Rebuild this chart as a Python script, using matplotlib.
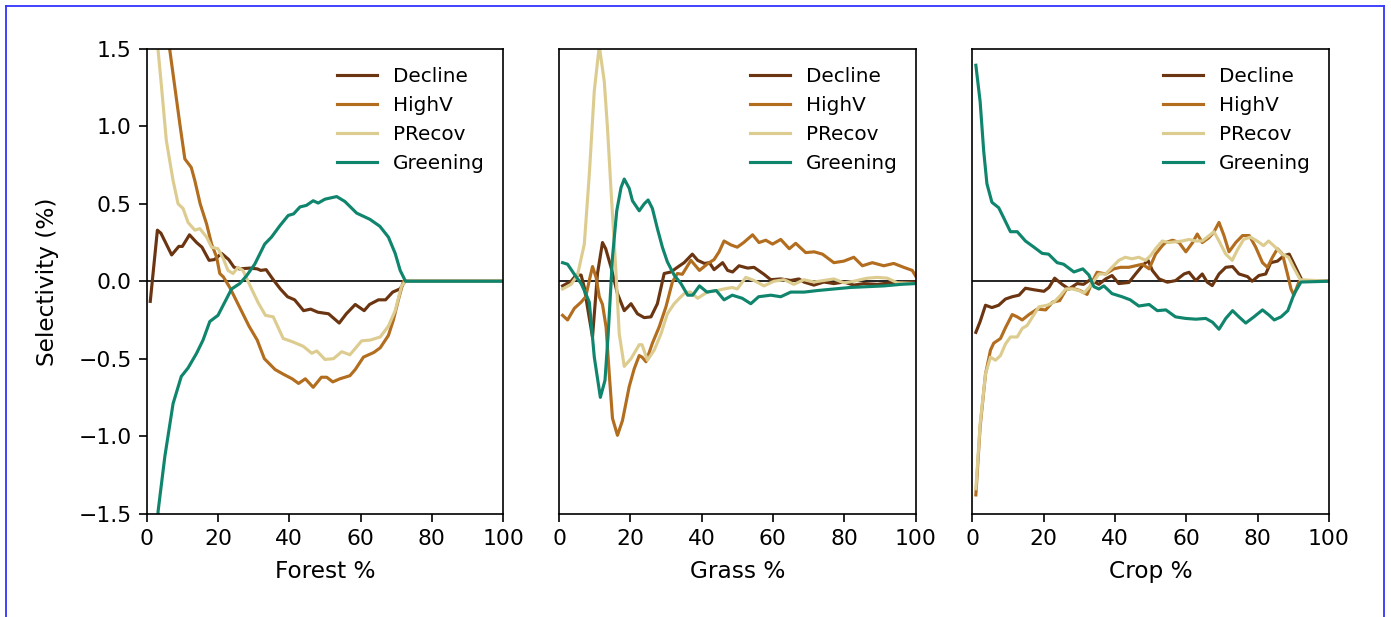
import matplotlib
matplotlib.use("Agg")
import matplotlib.pyplot as plt
from matplotlib.lines import Line2D

# ---------------- data ----------------
series_names = ["Decline", "HighV", "PRecov", "Greening"]
series_colors = ["#6b3511", "#b26d1f", "#ddcc90", "#10856d"]
panel_xlabels = ["Forest %", "Grass %", "Crop %"]
y_label = "Selectivity (%)"

# Forest
forest_decline_x = [1, 3, 4, 7, 9, 10, 12, 14, 15.5, 17.5, 19, 21, 23, 24.5, 26, 29, 31, 32, 33.5, 35.5,
                    37.5, 39.5, 41.5, 44, 46, 48, 51, 54, 56, 58.5, 61, 62.5, 65, 67, 69, 71, 72.5, 100]
forest_decline_y = [-0.13, 0.33, 0.31, 0.17, 0.225, 0.225, 0.30, 0.25, 0.22, 0.135, 0.14, 0.18, 0.14, 0.09,
                    0.08, 0.085, 0.08, 0.07, 0.075, 0.01, -0.05, -0.10, -0.12, -0.19, -0.18, -0.20, -0.21,
                    -0.27, -0.21, -0.15, -0.19, -0.15, -0.12, -0.12, -0.07, -0.05, 0, 0]
forest_highv_x = [1, 3, 5, 6.5, 9.3, 10.7, 12.5, 13.5, 15, 16.8, 18.2, 19.6, 20.5, 21.5, 23.3, 26, 28.7, 31,
                  33, 36, 38.3, 40.8, 42.6, 44.5, 46.7, 49, 50.5, 52.2, 54.2, 57, 58.5, 60.8, 63.7, 65.5,
                  67.8, 69.2, 70.6, 72, 100]
forest_highv_y = [3.0, 2.3, 1.8, 1.49, 1.015, 0.79, 0.735, 0.65, 0.50, 0.37, 0.24, 0.157, 0.05, 0.028,
                  -0.04, -0.165, -0.29, -0.38, -0.50, -0.57, -0.60, -0.63, -0.66, -0.63, -0.685, -0.62,
                  -0.62, -0.65, -0.63, -0.61, -0.57, -0.49, -0.46, -0.43, -0.35, -0.25, -0.12, 0, 0]
forest_precov_x = [1, 2, 3.2, 4.1, 5.5, 7.4, 8.8, 10.2, 11.6, 13.5, 14.9, 16.8, 18.2, 20, 21.5, 22.8, 24.2,
                   25.6, 27, 28.9, 31.3, 33.3, 35.5, 38.3, 40.8, 43.9, 46.3, 47.7, 50, 52.4, 54.7, 57, 60.3,
                   62.7, 65.5, 67.8, 69.7, 71.5, 72.6, 100]
forest_precov_y = [2.4, 1.9, 1.49, 1.27, 0.91, 0.65, 0.50, 0.47, 0.38, 0.33, 0.34, 0.285, 0.22, 0.21, 0.145,
                   0.07, 0.05, 0.09, 0.07, -0.025, -0.14, -0.22, -0.23, -0.37, -0.39, -0.42, -0.465, -0.45,
                   -0.505, -0.50, -0.455, -0.475, -0.385, -0.38, -0.36, -0.29, -0.19, -0.03, 0, 0]
forest_greening_x = [1, 2, 3.2, 5.1, 7.4, 9.7, 11.6, 14, 15.8, 17.7, 20, 21.9, 23.8, 26.1, 28, 30.3, 33.1, 35,
                     37.4, 39.7, 41.2, 43, 44.8, 46.7, 48.1, 50, 53.3, 55.6, 58.9, 62.6, 65.4, 67.8, 69.7,
                     71.1, 72.6, 100]
forest_greening_y = [-2.6, -2.0, -1.485, -1.13, -0.79, -0.615, -0.56, -0.465, -0.38, -0.26, -0.22, -0.135,
                     -0.05, -0.015, 0.035, 0.11, 0.24, 0.285, 0.36, 0.425, 0.435, 0.48, 0.49, 0.52, 0.505,
                     0.53, 0.547, 0.515, 0.44, 0.40, 0.355, 0.285, 0.18, 0.07, 0, 0]

# Grass
grass_decline_x = [1, 3.4, 4.8, 6.2, 7.1, 8, 9.4, 10.8, 12.2, 13.1, 14.6, 16.4, 18.3, 20.2, 22, 23.9, 25.8,
                   27.6, 29.5, 31.4, 33.2, 35.1, 37.4, 38.9, 40.8, 42.2, 43.5, 45.9, 47.3, 48.7, 50.5, 52.9,
                   54.7, 57.5, 59.4, 62.2, 65, 67.3, 68.7, 71.5, 74.3, 77.1, 79.9, 82.7, 85.5, 89.3, 93, 100]
grass_decline_y = [-0.03, 0.0, 0.04, 0.04, -0.04, -0.17, -0.36, 0.05, 0.25, 0.21, 0.09, -0.08, -0.19,
                   -0.145, -0.21, -0.235, -0.23, -0.145, 0.05, 0.06, 0.09, 0.12, 0.175, 0.135, 0.115, 0.12,
                   0.075, 0.12, 0.07, 0.06, 0.10, 0.085, 0.09, 0.045, 0.01, 0.015, 0.005, 0.015, -0.005,
                   -0.025, -0.005, -0.015, -0.005, -0.025, -0.015, -0.02, -0.01, -0.005]
grass_highv_x = [1, 2.4, 4.3, 6.2, 7.5, 8.5, 9.4, 10.4, 11.3, 12.2, 13.2, 14.1, 15, 16.4, 17.8, 19.7, 21.1,
                 22.5, 23.3, 24.4, 26.2, 28.1, 30, 31.8, 33.2, 34.6, 37, 39.4, 41.8, 43.5, 44.9, 46.3, 48.2,
                 50, 51.8, 54.3, 56.1, 58, 59.9, 62.2, 64.6, 66.4, 69.2, 71.6, 73.9, 77.1, 79.9, 82.7, 85.1,
                 87.9, 91.1, 93.9, 96.7, 99.1, 100]
grass_highv_y = [-0.22, -0.25, -0.175, -0.135, -0.10, 0.005, 0.095, 0.025, -0.10, -0.15, -0.295, -0.60,
                 -0.885, -0.995, -0.90, -0.68, -0.565, -0.48, -0.49, -0.52, -0.40, -0.295, -0.165, -0.005,
                 0.05, 0.045, 0.135, 0.07, 0.115, 0.14, 0.19, 0.26, 0.235, 0.22, 0.25, 0.30, 0.25, 0.265,
                 0.24, 0.27, 0.21, 0.245, 0.185, 0.19, 0.175, 0.12, 0.13, 0.155, 0.10, 0.12, 0.10, 0.115,
                 0.09, 0.07, 0.035]
grass_precov_x = [1, 3.4, 5.2, 7.1, 8.5, 9.9, 11.3, 12.7, 13.6, 14.6, 16, 16.9, 18.3, 20.2, 22.5, 23.3, 24.8,
                  26.7, 28.6, 30.4, 32.3, 34.2, 35.6, 36.9, 38.9, 41.6, 44.4, 46.2, 48.6, 50, 52.4, 54.7,
                  57.5, 60.3, 63.1, 65.9, 68.7, 71.5, 74.3, 77.1, 79.9, 82.7, 86.5, 89.3, 92.1, 94.9, 100]
grass_precov_y = [-0.05, -0.02, 0.04, 0.24, 0.69, 1.23, 1.52, 1.29, 0.99, 0.585, 0.05, -0.34, -0.55, -0.50,
                  -0.41, -0.41, -0.51, -0.445, -0.34, -0.21, -0.145, -0.10, -0.07, -0.07, -0.11, -0.07,
                  -0.06, -0.05, -0.04, -0.05, 0.025, 0.005, -0.03, 0.0, 0.01, -0.02, 0.01, -0.005, 0.005,
                  0.015, -0.01, 0.0, 0.02, 0.025, 0.02, -0.01, -0.015]
grass_greening_x = [1, 2.4, 4.3, 6.2, 7.5, 8.5, 9.9, 11.6, 12.9, 13.8, 15, 16.2, 17.4, 18.3, 19.7, 20.6, 22.5,
                    23.9, 25, 26.2, 27.6, 29, 30.4, 32.3, 34.2, 36.1, 37.5, 39.4, 41.5, 44.1, 46.3, 48.6,
                    51.4, 53.8, 56, 59.4, 62.2, 65, 68.8, 72.5, 77.1, 81.8, 86.5, 91.2, 95.9, 100]
grass_greening_y = [0.12, 0.11, 0.045, -0.015, -0.08, -0.135, -0.49, -0.75, -0.64, -0.34, 0.155, 0.455,
                    0.605, 0.66, 0.60, 0.52, 0.455, 0.50, 0.525, 0.47, 0.34, 0.22, 0.125, 0.04, -0.015,
                    -0.09, -0.09, -0.03, -0.07, -0.06, -0.12, -0.09, -0.11, -0.145, -0.10, -0.09, -0.10,
                    -0.07, -0.07, -0.06, -0.05, -0.04, -0.035, -0.03, -0.02, -0.015]

# Crop
crop_decline_x = [1, 2.2, 3.7, 5.5, 7.4, 9.3, 11.2, 13.1, 14.9, 17.3, 20.1, 21.5, 23.1, 25.2, 27.1, 29.4,
                  31.2, 33.1, 35.5, 37.4, 39.2, 41.1, 43.9, 45.8, 47.7, 49.3, 50.5, 52.4, 54.7, 57, 59.4,
                  60.8, 62.7, 64.5, 65.9, 67.3, 69.2, 71.1, 73, 74.8, 77.2, 78.5, 80.4, 82.3, 83.7, 85.6,
                  87.4, 88.9, 90.7, 92.6, 100]
crop_decline_y = [-0.33, -0.26, -0.155, -0.17, -0.155, -0.115, -0.10, -0.09, -0.045, -0.055, -0.065, -0.04,
                  0.02, -0.02, -0.05, -0.015, -0.02, 0.01, -0.02, 0.015, 0.037, -0.015, -0.008, 0.047,
                  0.10, 0.135, 0.07, 0.015, -0.006, 0.004, 0.047, 0.058, 0.004, 0.047, -0.006, -0.028,
                  0.047, 0.09, 0.095, 0.047, 0.03, 0.0, 0.037, 0.047, 0.12, 0.13, 0.165, 0.175, 0.09, 0.0,
                  0.0]
crop_highv_x = [1, 2.2, 3.7, 5.1, 6, 7.9, 9.3, 11.2, 12.6, 14, 15.9, 18.2, 20.6, 22.5, 24.5, 26.4, 28.1, 30.2,
                32.2, 33.6, 35, 37.4, 39.7, 41.6, 43.9, 45.8, 47.7, 49.6, 51.4, 53.3, 54.2, 56.2, 58, 59.9,
                61.8, 63.1, 64.5, 66.3, 67.7, 69.2, 70.6, 72, 73.9, 75.8, 77.7, 79.5, 81.4, 82.8, 84.2,
                85.6, 87, 88.4, 89.4, 90.2, 91.6, 92.5, 100]
crop_highv_y = [-1.38, -0.94, -0.60, -0.445, -0.40, -0.37, -0.30, -0.215, -0.23, -0.25, -0.215, -0.18,
                -0.185, -0.135, -0.125, -0.05, -0.045, -0.06, -0.085, -0.006, 0.058, 0.047, 0.08, 0.09,
                0.09, 0.10, 0.11, 0.08, 0.175, 0.23, 0.25, 0.265, 0.25, 0.19, 0.25, 0.305, 0.25, 0.28,
                0.315, 0.38, 0.295, 0.19, 0.25, 0.295, 0.295, 0.22, 0.12, 0.09, 0.155, 0.21, 0.175, 0.047,
                -0.05, -0.09, -0.005, 0, 0]
crop_precov_x = [1, 2.2, 3.7, 5.1, 6.5, 7.9, 9.3, 10.7, 12.6, 14, 15.4, 16.9, 18.7, 21, 22.9, 24.8, 26.2,
                 28.1, 29.9, 31.3, 33.1, 35.5, 37.4, 39.2, 41.1, 42.9, 44.8, 46.7, 48.6, 50, 51.4, 53.3,
                 55.1, 57, 58.9, 60.8, 62.7, 64.5, 65.9, 67.8, 69.2, 71.1, 72.9, 74.3, 76.1, 78, 79.9, 81.7,
                 83.1, 85, 86.9, 88.7, 90.1, 92, 100]
crop_precov_y = [-1.34, -0.92, -0.60, -0.49, -0.51, -0.48, -0.405, -0.36, -0.36, -0.305, -0.285, -0.23,
                 -0.165, -0.155, -0.135, -0.09, -0.05, -0.05, -0.06, -0.077, -0.03, 0.047, 0.047, 0.09,
                 0.135, 0.155, 0.145, 0.155, 0.135, 0.165, 0.21, 0.26, 0.25, 0.255, 0.26, 0.27, 0.26, 0.26,
                 0.285, 0.32, 0.26, 0.175, 0.135, 0.20, 0.27, 0.285, 0.26, 0.23, 0.26, 0.22, 0.175, 0.155,
                 0.09, 0.01, 0]
crop_greening_x = [1, 2.2, 3.2, 4.1, 5.5, 7.4, 8.8, 10.7, 12.6, 14.9, 17.3, 19.6, 21.4, 23.8, 25.6, 28.5, 31,
                   32.7, 34.1, 35.5, 36.9, 39.2, 42, 44.3, 46.7, 49.6, 51.9, 54.3, 57, 59.8, 62.7, 65.5,
                   67.4, 69.2, 71.1, 73, 74.8, 76.7, 79, 81.4, 83.3, 84.7, 86.6, 88.5, 90.3, 92.2, 100]
crop_greening_y = [1.395, 1.16, 0.84, 0.63, 0.51, 0.475, 0.41, 0.32, 0.32, 0.26, 0.22, 0.18, 0.175, 0.12,
                   0.11, 0.06, 0.08, 0.04, -0.035, -0.05, -0.03, -0.08, -0.10, -0.12, -0.16, -0.15, -0.19,
                   -0.185, -0.23, -0.24, -0.245, -0.24, -0.265, -0.31, -0.24, -0.19, -0.23, -0.27, -0.23,
                   -0.185, -0.22, -0.25, -0.23, -0.19, -0.08, -0.005, 0]

panels = [
    [(forest_decline_x, forest_decline_y), (forest_highv_x, forest_highv_y),
     (forest_precov_x, forest_precov_y), (forest_greening_x, forest_greening_y)],
    [(grass_decline_x, grass_decline_y), (grass_highv_x, grass_highv_y),
     (grass_precov_x, grass_precov_y), (grass_greening_x, grass_greening_y)],
    [(crop_decline_x, crop_decline_y), (crop_highv_x, crop_highv_y),
     (crop_precov_x, crop_precov_y), (crop_greening_x, crop_greening_y)],
]

# ---------------- figure ----------------
W, H, DPI = 1391, 617, 150
fig = plt.figure(figsize=(W / DPI, H / DPI), dpi=DPI)

lefts = [146.7, 559.0, 972.3]
ax_w = 356.5
top_px, bottom_px = 49.0, 513.5

axes = []
for i, left in enumerate(lefts):
    ax = fig.add_axes([left / W, 1 - bottom_px / H, ax_w / W, (bottom_px - top_px) / H])
    axes.append(ax)
    ax.axhline(0, color="black", lw=0.8, zorder=1)
    for (xs, ys), name, col in zip(panels[i], series_names, series_colors):
        ax.plot(xs, ys, color=col, lw=1.5, label=name, zorder=2)
    ax.set_xlim(0, 100)
    ax.set_ylim(-1.5, 1.5)
    ax.set_xticks([0, 20, 40, 60, 80, 100])
    ax.set_yticks([-1.5, -1.0, -0.5, 0.0, 0.5, 1.0, 1.5])
    ax.set_xlabel(panel_xlabels[i], fontsize=11.2, labelpad=5.5)
    ax.tick_params(labelsize=10.5, length=3.8)
    ax.legend(loc="upper right", frameon=False, fontsize=9.6)
    if i == 0:
        ax.set_ylabel(y_label, fontsize=11.2, labelpad=9)
    else:
        ax.set_yticks([])

# thin blue frame around the figure
frame_kw = dict(color="#3a3aff", lw=0.9, transform=fig.transFigure)
xl, xr, yt = 6.5 / W, 1384.0 / W, 1 - 5.5 / H
fig.add_artist(Line2D([xl, xl], [-0.1, yt], **frame_kw))
fig.add_artist(Line2D([xl, xr], [yt, yt], **frame_kw))
fig.add_artist(Line2D([xr, xr], [-0.1, yt], **frame_kw))

fig.savefig("out.png", dpi=DPI)
